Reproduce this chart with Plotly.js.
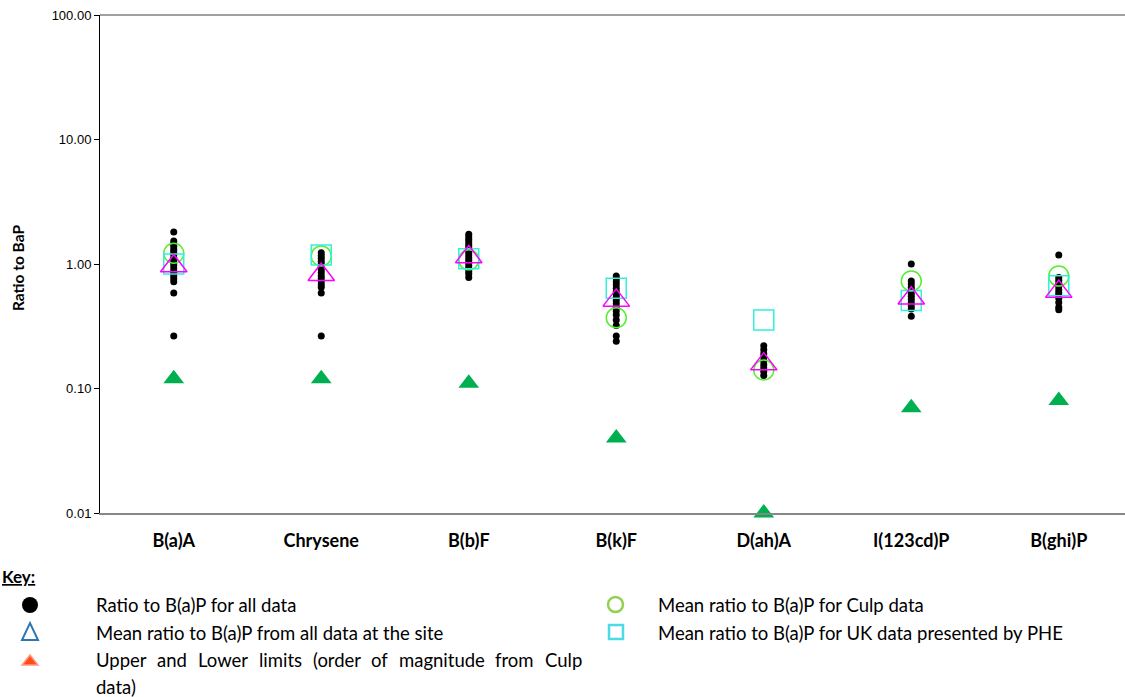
<!DOCTYPE html>
<html>
<head>
<meta charset="utf-8">
<script src="https://cdn.plot.ly/plotly-3.0.1.min.js"></script>
<style>
html,body{margin:0;padding:0;background:#fff;}
#chart{width:1125px;height:697px;}
</style>
</head>
<body>
<div id="chart"></div>
<script>
const categories = ['B(a)A','Chrysene','B(b)F','B(k)F','D(ah)A','I(123cd)P','B(ghi)P'];

// Ratio to B(a)P for all data (per compound)
const dataBaA  = [1.81,1.53,1.45,1.38,1.31,1.25,1.19,1.13,1.08,1.03,0.98,0.93,0.88,0.84,0.80,0.76,0.72,0.585,0.264];
const dataChry = [1.23,1.17,1.11,1.05,1.0,0.95,0.9,0.85,0.8,0.76,0.72,0.68,0.65,0.585,0.264];
const dataBbF  = [1.73,1.65,1.57,1.5,1.43,1.37,1.3,1.24,1.18,1.12,1.07,1.02,0.97,0.92,0.87,0.83,0.78];
const dataBkF  = [0.80,0.76,0.72,0.68,0.64,0.6,0.57,0.54,0.51,0.48,0.45,0.42,0.39,0.355,0.32,0.264,0.24];
const dataDahA = [0.22,0.205,0.19,0.178,0.166,0.155,0.146,0.137,0.127];
const dataIP   = [1.0,0.73,0.69,0.65,0.62,0.58,0.55,0.52,0.49,0.46,0.435,0.38];
const dataBghiP= [1.18,0.78,0.74,0.70,0.66,0.62,0.59,0.56,0.53,0.49,0.45,0.43];
const allDataSets = [dataBaA,dataChry,dataBbF,dataBkF,dataDahA,dataIP,dataBghiP];

// Mean ratios
const meanSite = [0.965,0.82,1.14,0.51,0.157,0.53,0.60];
const meanCulp = [1.22,1.16,1.08,0.37,0.141,0.73,0.80];
const meanPHE  = [1.0,1.18,1.1,0.64,0.355,0.51,0.67];
// Lower limits (order of magnitude from Culp data)
const lowerLimit = [0.12,0.12,0.11,0.04,0.01,0.07,0.08];

const yTickVals = [0.01,0.1,1,10,100];
const yTickText = ['0.01','0.10','1.00','10.00','100.00'];

const dotX = [], dotY = [];
allDataSets.forEach((arr,i)=>arr.forEach(v=>{dotX.push(categories[i]);dotY.push(v);}));

const traces = [
  {x:dotX,y:dotY,type:'scatter',mode:'markers',marker:{color:'#000',size:7},hoverinfo:'y'},
  {x:categories,y:lowerLimit,type:'scatter',mode:'markers',cliponaxis:false,
   marker:{symbol:'triangle-up',color:'#00B050',size:18}},
  {x:categories,y:meanCulp,type:'scatter',mode:'markers',
   marker:{symbol:'circle-open',color:'#55EE33',size:20,line:{width:1.5}}},
  {x:categories,y:meanPHE,type:'scatter',mode:'markers',
   marker:{symbol:'square-open',color:'#33F0D8',size:20,line:{width:1.5}}},
  {x:categories,y:meanSite,type:'scatter',mode:'markers',
   marker:{symbol:'triangle-up-open',color:'#FF00FF',size:23,line:{width:1.5}}}
];

const L=100, T=15, W=1025, H=498;
const px = x => (x-L)/W;
const py = y => (T+H-y)/H;

const shapes = [
  {type:'line',xref:'paper',yref:'paper',x0:0,x1:1,y0:1,y1:1,line:{color:'#404040',width:1}},
  // legend symbols
  {type:'circle',xref:'paper',yref:'paper',x0:px(22),x1:px(38),y0:py(597),y1:py(613),fillcolor:'#000',line:{color:'#000',width:0}},
  {type:'path',xref:'paper',yref:'paper',
   path:`M ${px(22)} ${py(640)} L ${px(38)} ${py(640)} L ${px(30)} ${py(623)} Z`,
   line:{color:'#2E75B6',width:2}},
  {type:'path',xref:'paper',yref:'paper',
   path:`M ${px(22)} ${py(665)} L ${px(38)} ${py(665)} L ${px(30)} ${py(655)} Z`,
   fillcolor:'#FF4D1A',line:{color:'#FF9980',width:1.5}},
  {type:'circle',xref:'paper',yref:'paper',x0:px(608),x1:px(623),y0:py(597),y1:py(612),line:{color:'#92D050',width:2.5}},
  {type:'rect',xref:'paper',yref:'paper',x0:px(609),x1:px(623),y0:py(625),y1:py(639),line:{color:'#4DD9E6',width:2.5}}
];

const legFontSize = 18.5, legFamily = 'Lato, "Noto Sans", sans-serif';
const legFont = {family:legFamily,size:legFontSize,color:'#000'};
function ann(text,x,y,extra){return Object.assign({text:text,xref:'paper',yref:'paper',x:px(x),y:py(y),
  xanchor:'left',yanchor:'middle',showarrow:false,font:legFont},extra||{});}

// justified third key line: words spread between the key text column and its right margin
const keyWords = ['Upper','and','Lower','limits','(order','of','magnitude','from','Culp'];
const justStart = 95, justEnd = 581;
const ctx = document.createElement('canvas').getContext('2d');
ctx.font = legFontSize + 'px Lato';
const wWidths = keyWords.map(w=>ctx.measureText(w).width);
const totalW = wWidths.reduce((a,b)=>a+b,0);
const gap = (justEnd-justStart-totalW)/(keyWords.length-1);

const annotations = [
  {text:'<b>Ratio to BaP</b>',xref:'paper',yref:'paper',x:px(18),y:py(268),textangle:-90,
   showarrow:false,xanchor:'center',yanchor:'middle',font:{family:'Lato, sans-serif',size:15.5,color:'#000'}},
  ann('<b><u>Key:</u></b>',0,576,{font:{family:'Lato, sans-serif',size:17,color:'#000'}}),
  ann('Ratio to B(a)P for all data',94,605),
  ann('Mean ratio to B(a)P from all data at the site',94,633),
  ann('data)',94,687),
  ann('Mean ratio to B(a)P for Culp data',656,605),
  ann('Mean ratio to B(a)P for UK data presented by PHE',656,633)
];
let cx = justStart;
keyWords.forEach((w,i)=>{annotations.push(ann(w,cx-1,660)); cx += wWidths[i]+gap;});

const layout = {
  width:1125,height:697,
  margin:{l:L,r:0,t:T,b:697-T-H,pad:0},
  paper_bgcolor:'#fff',plot_bgcolor:'#fff',
  showlegend:false,
  xaxis:{type:'category',range:[-0.5,6.449],showgrid:false,zeroline:false,
    showline:true,linecolor:'#868686',linewidth:1.5,ticks:'',
    tickfont:{family:'Lato, sans-serif',size:18,color:'#000',weight:'bold'},
    ticklabelstandoff:11},
  yaxis:{type:'log',range:[-2,2],tickvals:yTickVals,ticktext:yTickText,showgrid:false,zeroline:false,
    showline:true,linecolor:'#000',linewidth:1,ticks:'outside',ticklen:5,tickcolor:'#000',
    tickfont:{family:'"Liberation Sans", Arial, sans-serif',size:13,color:'#000'}},
  shapes:shapes,annotations:annotations
};

Plotly.newPlot('chart',traces,layout,{displayModeBar:false,staticPlot:true});
</script>
</body>
</html>
